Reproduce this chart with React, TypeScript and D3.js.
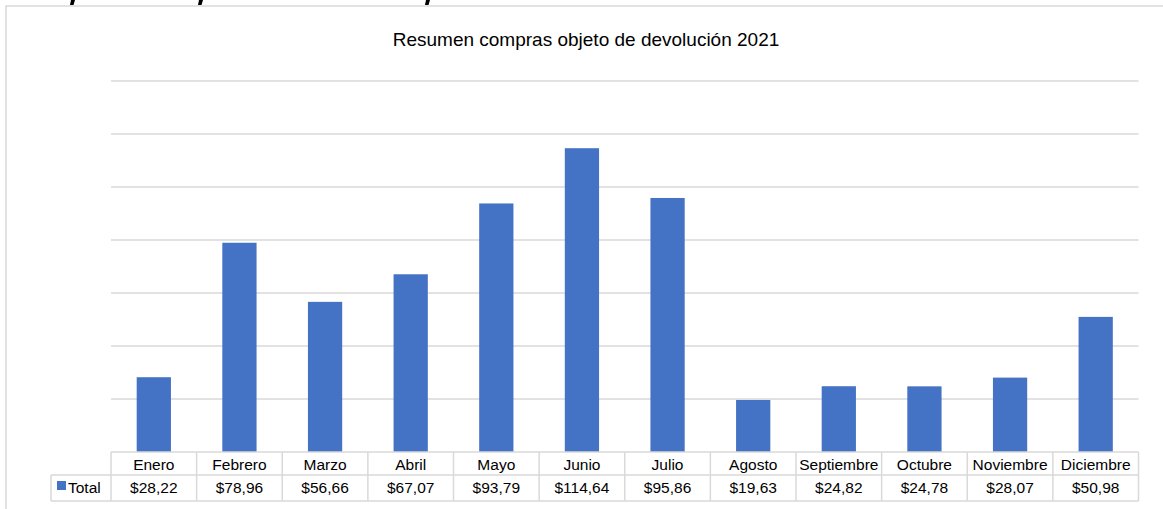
import React from "react";
import * as d3 from "d3";

const months = ["Enero","Febrero","Marzo","Abril","Mayo","Junio","Julio","Agosto","Septiembre","Octubre","Noviembre","Diciembre"];
const totals = [28.22,78.96,56.66,67.07,93.79,114.64,95.86,19.63,24.82,24.78,28.07,50.98];
const valueLabels = ["$28,22","$78,96","$56,66","$67,07","$93,79","$114,64","$95,86","$19,63","$24,82","$24,78","$28,07","$50,98"];
const yTicks = [0,20,40,60,80,100,120,140];
const seriesName = "Total";
const title = "Resumen compras objeto de devolución 2021";

const W = 1163, H = 509;
const plotL = 111, plotR = 1138.5, plotTop = 81, plotBottom = 452;
const headerBottom = 475, tableBottom = 501, legendL = 51;
const font = "'Liberation Sans', Arial, sans-serif";
const grid = "#d9d9d9";
const barColor = "#4472C4";

export default function App() {
  const x = d3.scaleBand<string>().domain(months).range([plotL, plotR]).paddingInner(0).paddingOuter(0);
  const y = d3.scaleLinear().domain([0, 140]).range([plotBottom, plotTop]);
  const bw = x.bandwidth();
  const barW = bw * 0.4;
  return (
    <div style={{ position: "fixed", left: 0, top: 0, width: W, height: H, background: "#fff" }}>
      <svg width={W} height={H} style={{ display: "block" }}>
        {/* cut-off heading fragments */}
        <path d="M71,0 L75,0 L73.5,5 L70,5 Z" fill="#000" />
        <path d="M199,0 L203,0 L201.5,5 L198,5 Z" fill="#000" />
        <path d="M426,0 L430,0 L428.5,5 L425,5 Z" fill="#000" />
        {/* frame */}
        <path d={`M6,${H} L6,6 L${W},6`} fill="none" stroke={grid} strokeWidth={1.5} />
        <text x={586} y={46} textAnchor="middle" fontFamily={font} fontSize={19} fill="#000">{title}</text>
        {yTicks.filter(t => t > 0).map(t => (
          <line key={t} x1={plotL} x2={plotR} y1={y(t)} y2={y(t)} stroke={grid} strokeWidth={1.5} />
        ))}
        {months.map((m, i) => (
          <rect key={m} x={(x(m) as number) + (bw - barW) / 2} y={y(totals[i])} width={barW} height={y(0) - y(totals[i])} fill={barColor} />
        ))}
        {/* data table */}
        <g stroke={grid} strokeWidth={1.5} fill="none">
          <line x1={plotL} x2={plotR} y1={plotBottom} y2={plotBottom} />
          <line x1={legendL} x2={plotR} y1={headerBottom} y2={headerBottom} />
          <line x1={legendL} x2={plotR} y1={tableBottom} y2={tableBottom} />
          <line x1={legendL} x2={legendL} y1={headerBottom} y2={tableBottom} />
          {months.map(m => (
            <line key={m} x1={x(m) as number} x2={x(m) as number} y1={plotBottom} y2={tableBottom} />
          ))}
          <line x1={plotR} x2={plotR} y1={plotBottom} y2={tableBottom} />
        </g>
        {months.map((m, i) => (
          <g key={m}>
            <text x={(x(m) as number) + bw / 2} y={469.5} textAnchor="middle" fontFamily={font} fontSize={15.5} fill="#000">{m}</text>
            <text x={(x(m) as number) + bw / 2} y={493} textAnchor="middle" fontFamily={font} fontSize={15.5} fill="#000">{valueLabels[i]}</text>
          </g>
        ))}
        <rect x={57} y={481} width={9} height={9} fill={barColor} />
        <text x={68} y={493} fontFamily={font} fontSize={15.5} fill="#000">{seriesName}</text>
      </svg>
    </div>
  );
}
